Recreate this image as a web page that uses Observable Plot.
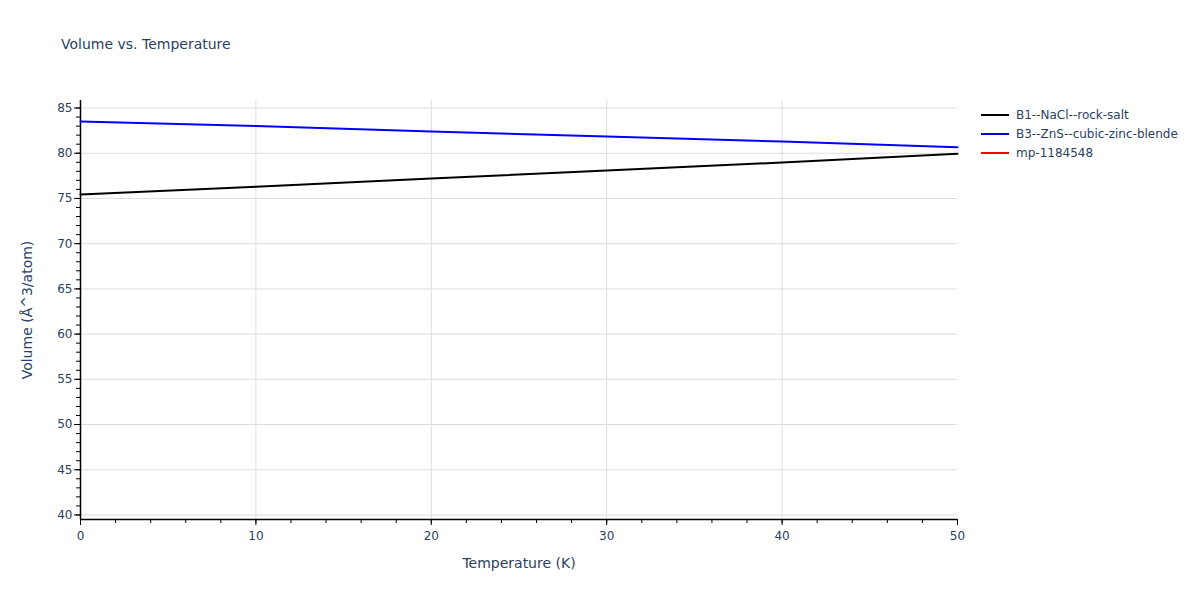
<!DOCTYPE html>
<html>
<head>
<meta charset="utf-8">
<script src="https://cdn.jsdelivr.net/npm/d3@7"></script>
<script src="https://cdn.jsdelivr.net/npm/@observablehq/plot@0.6"></script>
<style>
  body { margin: 0; background: #fff; font-family: "DejaVu Sans", sans-serif; }
  #wrap { position: relative; width: 1200px; height: 600px; }
  #title { position: absolute; left: 61px; top: 36px; font-size: 14px; line-height: 17px; color: #2a3f5f; }
  #legend { position: absolute; left: 981px; top: 105px; font-size: 12px; color: #2a3f5f; }
  .row { display: flex; align-items: center; height: 19px; }
  .sw { width: 28px; height: 2px; margin-right: 7px; }
  #chart { position: absolute; left: 0; top: 0; }
</style>
</head>
<body>
<div id="wrap">
  <div id="chart"></div>
  <div id="title">Volume vs. Temperature</div>
  <div id="legend"></div>
</div>
<script>
const temperature = [0, 10, 20, 30, 40, 50];
const b1Volume = [75.44, 76.3, 77.2, 78.1, 78.97, 79.95];
const b3Volume = [83.5, 83.0, 82.4, 81.85, 81.3, 80.65];
const mpTemperature = [];
const mpVolume = [];
const seriesNames = ["B1--NaCl--rock-salt", "B3--ZnS--cubic-zinc-blende", "mp-1184548"];
const seriesColors = ["#000000", "#0000ff", "#ff0000"];
const xMajorTicks = [0, 10, 20, 30, 40, 50];
const yMajorTicks = [40, 45, 50, 55, 60, 65, 70, 75, 80, 85];

const rows = [];
temperature.forEach((t, i) => rows.push({series: seriesNames[0], t, v: b1Volume[i]}));
temperature.forEach((t, i) => rows.push({series: seriesNames[1], t, v: b3Volume[i]}));
mpTemperature.forEach((t, i) => rows.push({series: seriesNames[2], t, v: mpVolume[i]}));

const xMinor = d3.range(0, 50.001, 2);
const yMinor = d3.range(40, 85.001, 1);

const chart = Plot.plot({
  width: 1200,
  height: 600,
  marginLeft: 80,
  marginRight: 243,
  marginTop: 100,
  marginBottom: 81,
  style: {fontFamily: "DejaVu Sans, sans-serif", fontSize: "12px", color: "#2a3f5f", background: "transparent"},
  x: {domain: [0, 50]},
  y: {domain: [39.5, 85.83]},
  color: {domain: seriesNames, range: seriesColors},
  marks: [
    Plot.gridY(yMajorTicks, {stroke: "#dddddd", strokeOpacity: 1}),
    Plot.gridX(xMajorTicks.filter(d => d > 0 && d < 50), {stroke: "#dddddd", strokeOpacity: 1}),
    Plot.axisX(xMinor, {tickSize: 4, stroke: "#000", tickFormat: null, label: null, text: null}),
    Plot.axisX(xMajorTicks, {tickSize: 6, stroke: "#000", tickPadding: 6, fill: "#2a3f5f", fontSize: 12, label: "Temperature (K)", labelAnchor: "center", labelArrow: "none", labelOffset: 48}),
    Plot.axisY(yMinor, {tickSize: 4, stroke: "#000", tickFormat: null, label: null, text: null}),
    Plot.axisY(yMajorTicks, {tickSize: 6, stroke: "#000", tickPadding: 2, fill: "#2a3f5f", fontSize: 12, label: "Volume (Å^3/atom)", labelAnchor: "center", labelArrow: "none", labelOffset: 58}),
    Plot.ruleX([0], {stroke: "#000", strokeWidth: 1.5}),
    Plot.ruleY([39.5], {stroke: "#000", strokeWidth: 1.5}),
    Plot.line(rows, {x: "t", y: "v", z: "series", stroke: "series", strokeWidth: 2})
  ]
});
document.getElementById("chart").appendChild(chart);
chart.querySelectorAll('[aria-label="x-axis label"] text, [aria-label="y-axis label"] text').forEach(t => {
  t.style.fontSize = "14px";
  t.setAttribute("fill", "#2a3f5f");
});

const legend = document.getElementById("legend");
seriesNames.forEach((name, i) => {
  const row = document.createElement("div");
  row.className = "row";
  row.innerHTML = `<div class="sw" style="background:${seriesColors[i]}"></div><span>${name}</span>`;
  legend.appendChild(row);
});
</script>
</body>
</html>
